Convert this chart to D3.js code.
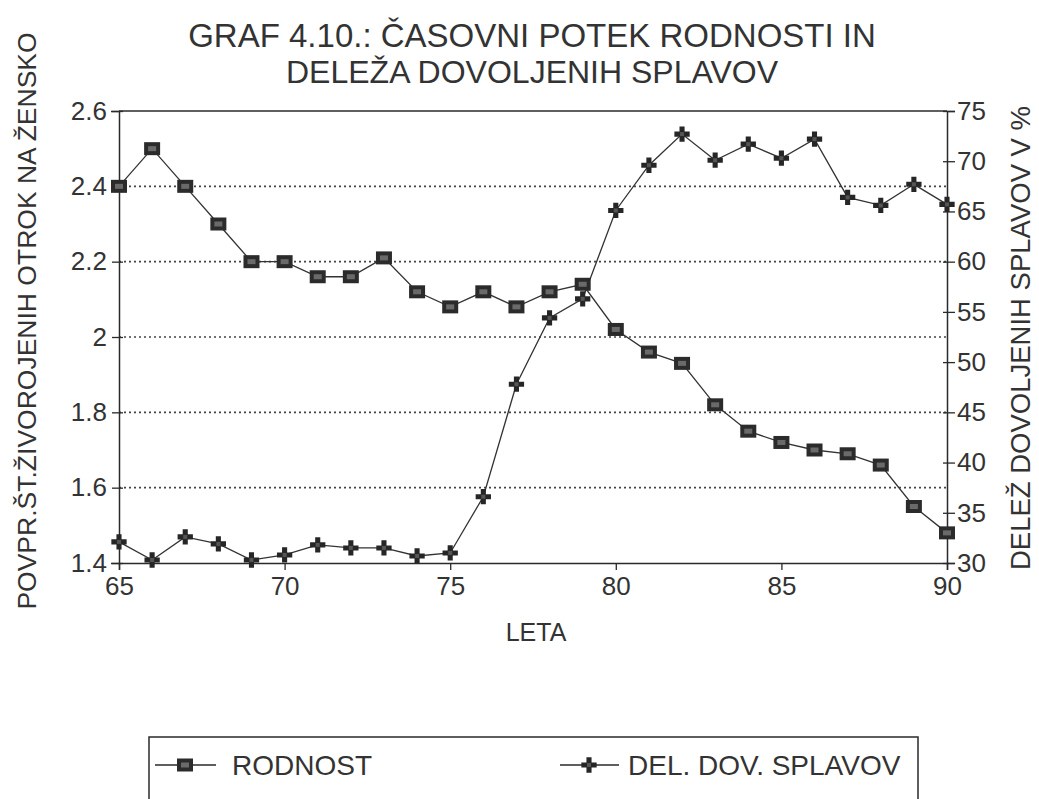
<!DOCTYPE html>
<html>
<head>
<meta charset="utf-8">
<script src="https://cdn.jsdelivr.net/npm/d3@7"></script>
<style>
  body { margin: 0; background: #fff; }
  text { font-family: "Liberation Sans", Arial, sans-serif; fill: #333; }
</style>
</head>
<body>
<svg width="1039" height="799"></svg>
<script>
var years = [65,66,67,68,69,70,71,72,73,74,75,76,77,78,79,80,81,82,83,84,85,86,87,88,89,90];
// RODNOST (left axis)
var rodnost = [2.40,2.50,2.40,2.30,2.20,2.20,2.16,2.16,2.21,2.12,2.08,2.12,2.08,2.12,2.14,2.02,1.96,1.93,1.82,1.75,1.72,1.70,1.69,1.66,1.55,1.48];
// DEL. DOV. SPLAVOV (right axis, %)
var splavov = [32.1,30.3,32.6,31.9,30.3,30.8,31.8,31.5,31.5,30.7,31.0,36.6,47.8,54.4,56.3,65.1,69.6,72.7,70.1,71.7,70.3,72.2,66.4,65.6,67.7,65.7];
var leftTicks = [1.4,1.6,1.8,2.0,2.2,2.4,2.6];
var rightTicks = [30,35,40,45,50,55,60,65,70,75];
var xTicks = [65,70,75,80,85,90];

var svg = d3.select("svg");
var ink = "#2a2a2a";

var x = d3.scaleLinear().domain([65, 90]).range([119, 947]);
var yL = d3.scaleLinear().domain([1.4, 2.6]).range([563, 111]);
var yR = d3.scaleLinear().domain([30, 75]).range([563, 111]);

// title
svg.append("text").attr("x", 532).attr("y", 47).attr("text-anchor", "middle")
  .attr("font-size", 33).text("GRAF 4.10.: ČASOVNI POTEK RODNOSTI IN");
svg.append("text").attr("x", 532).attr("y", 83).attr("text-anchor", "middle")
  .attr("font-size", 32).text("DELEŽA DOVOLJENIH SPLAVOV");

// grid
svg.append("g").selectAll("line")
  .data([1.6,1.8,2.0,2.2,2.4])
  .enter().append("line")
  .attr("x1", x(65)).attr("x2", x(90))
  .attr("y1", function (d) { return yL(d); })
  .attr("y2", function (d) { return yL(d); })
  .attr("stroke", "#444").attr("stroke-width", 1.6)
  .attr("stroke-dasharray", "2,3");

// frame: top border
svg.append("line").attr("x1", x(65)).attr("x2", x(90))
  .attr("y1", yL(2.6)).attr("y2", yL(2.6))
  .attr("stroke", ink).attr("stroke-width", 1.5);

// axes
var axL = svg.append("g").attr("transform", "translate(" + x(65) + ",0)")
  .call(d3.axisLeft(yL).tickValues(leftTicks)
    .tickFormat(function (d) { return d === 2 ? "2" : d3.format(".1f")(d); })
    .tickSize(8).tickPadding(4));
var axR = svg.append("g").attr("transform", "translate(" + x(90) + ",0)")
  .call(d3.axisRight(yR).tickValues(rightTicks).tickSize(8).tickPadding(2));
var axB = svg.append("g").attr("transform", "translate(0," + yL(1.4) + ")")
  .call(d3.axisBottom(x).tickValues(xTicks).tickSize(7).tickPadding(4));

[axL, axR, axB].forEach(function (a) {
  a.select(".domain").attr("stroke", ink).attr("stroke-width", 1.5);
  a.selectAll(".tick line").attr("stroke", ink).attr("stroke-width", 1.3);
  a.selectAll(".tick text").attr("font-size", 26).attr("fill", "#333")
    .style("font-family", "'Liberation Sans', Arial, sans-serif");
});
// left ticks cross the axis a little
axL.selectAll(".tick line").attr("x2", -7).attr("x1", 4);
axR.selectAll(".tick line").attr("x1", -4);
axB.selectAll(".tick text").attr("dy", "0.8em");

// axis titles
svg.append("text").attr("x", 536).attr("y", 641).attr("text-anchor", "middle")
  .attr("font-size", 25).text("LETA");
svg.append("text")
  .attr("transform", "translate(36,321) rotate(-90)")
  .attr("text-anchor", "middle").attr("font-size", 26.5)
  .text("POVPR.ŠT.ŽIVOROJENIH OTROK NA ŽENSKO");
svg.append("text")
  .attr("transform", "translate(1030,338) rotate(-90)")
  .attr("text-anchor", "middle").attr("font-size", 27.5)
  .text("DELEŽ DOVOLJENIH SPLAVOV V %");

// lines
var lineL = d3.line()
  .x(function (d, i) { return x(years[i]); })
  .y(function (d) { return yL(d); });
var lineR = d3.line()
  .x(function (d, i) { return x(years[i]); })
  .y(function (d) { return yR(d); });

svg.append("path").datum(splavov).attr("d", lineR)
  .attr("fill", "none").attr("stroke", "#333").attr("stroke-width", 1.3);
svg.append("path").datum(rodnost).attr("d", lineL)
  .attr("fill", "none").attr("stroke", "#333").attr("stroke-width", 1.3);

// marker shapes
var plus = d3.symbol().type(d3.symbolCross).size(130);

function squareMark(g) {
  g.append("rect").attr("x", -8).attr("y", -6.5).attr("width", 16).attr("height", 13)
    .attr("fill", "#2b2b2b");
  g.append("rect").attr("x", -4).attr("y", -2.5).attr("width", 8).attr("height", 5)
    .attr("fill", "#6a6a6a");
}
function plusMark(g) {
  g.append("path").attr("d", plus).attr("fill", "#262626");
  g.append("rect").attr("x", -2).attr("y", -2).attr("width", 4).attr("height", 4)
    .attr("fill", "#555");
}

svg.append("g").selectAll("g")
  .data(splavov).enter().append("g")
  .attr("transform", function (d, i) { return "translate(" + x(years[i]) + "," + yR(d) + ")"; })
  .each(function () { plusMark(d3.select(this)); });

svg.append("g").selectAll("g")
  .data(rodnost).enter().append("g")
  .attr("transform", function (d, i) { return "translate(" + x(years[i]) + "," + yL(d) + ")"; })
  .each(function () { squareMark(d3.select(this)); });

// legend
var leg = svg.append("g");
leg.append("path").attr("d", "M149,799 V737 H918 V799")
  .attr("fill", "none").attr("stroke", ink).attr("stroke-width", 1.5);
leg.append("line").attr("x1", 155).attr("x2", 216).attr("y1", 765).attr("y2", 765)
  .attr("stroke", ink).attr("stroke-width", 1.5);
squareMark(leg.append("g").attr("transform", "translate(185,765)"));
leg.append("text").attr("x", 232).attr("y", 775).attr("font-size", 28).text("RODNOST");
leg.append("line").attr("x1", 560).attr("x2", 619).attr("y1", 765).attr("y2", 765)
  .attr("stroke", ink).attr("stroke-width", 1.5);
plusMark(leg.append("g").attr("transform", "translate(589,765)"));
leg.append("text").attr("x", 628).attr("y", 775).attr("font-size", 28).text("DEL. DOV. SPLAVOV");
</script>
</body>
</html>
